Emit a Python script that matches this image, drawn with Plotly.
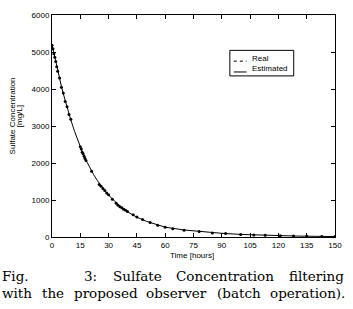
import plotly.graph_objects as go

# Estimated (observer) curve
est_time = [0, 1, 2, 3, 4, 5, 6, 7, 8, 9, 10, 12, 14, 16, 18, 20, 22, 24, 26, 28, 30,
            33, 36, 40, 45, 50, 55, 60, 70, 80, 90, 100, 110, 120, 130, 140, 150]
est_sulfate = [5200, 4960, 4720, 4500, 4280, 4070, 3870, 3680, 3500, 3330, 3160, 2850,
               2570, 2310, 2080, 1870, 1690, 1530, 1380, 1250, 1130, 970, 835, 680, 535,
               425, 335, 265, 190, 140, 100, 70, 50, 35, 25, 18, 12]

# Real (measured) samples
real_time = [0, 0.5, 1, 1.5, 2, 2.5, 3, 4, 5, 6, 7, 8, 9, 10, 15, 15.5, 16, 16.5, 17,
             17.5, 18, 21, 25, 26, 27, 28, 29, 30, 32, 34, 35, 36, 37, 38, 39, 40, 43,
             45, 48, 52, 56, 60, 64, 70, 78, 85, 92, 100, 107, 113, 121, 128, 135, 143, 150]
real_sulfate = [5180, 5090, 4950, 4860, 4740, 4600, 4480, 4300, 4050, 3890, 3660, 3520,
                3310, 3180, 2440, 2380, 2290, 2250, 2180, 2120, 2070, 1780, 1420, 1370,
                1310, 1260, 1190, 1140, 1020, 910, 860, 820, 790, 750, 720, 690, 600,
                540, 475, 395, 320, 265, 225, 185, 150, 110, 95, 70, 55, 45, 35, 25, 20,
                15, 12]

x_ticks = [0, 15, 30, 45, 60, 75, 90, 105, 120, 135, 150]
y_ticks = [0, 1000, 2000, 3000, 4000, 5000, 6000]

legend_labels = ["Real", "Estimated"]
caption_line1 = ["Fig.", "3:", "Sulfate", "Concentration", "filtering"]
caption_line2 = ["with", "the", "proposed", "observer", "(batch", "operation)."]

fig = go.Figure()
fig.add_trace(go.Scatter(x=est_time, y=est_sulfate, mode="lines", name="Estimated",
                         line=dict(color="black", width=1), showlegend=False))
fig.add_trace(go.Scatter(x=real_time, y=real_sulfate, mode="markers", name="Real",
                         marker=dict(color="black", size=3), showlegend=False))

axis_common = dict(showline=True, linecolor="black", linewidth=1, mirror="ticks",
                   ticks="inside", ticklen=4, tickcolor="black", showgrid=False,
                   zeroline=False, tickfont=dict(family="Liberation Sans", size=8, color="black"))

fig.update_xaxes(range=[0, 150], tickvals=x_ticks, **axis_common)
fig.update_yaxes(range=[0, 6000], tickvals=y_ticks, **axis_common)

L, R, T, B = 52, 340, 11, 237
W, H = float(R - L), float(B - T)
def px(x):
    return (x - L) / W
def py(y):
    return (B - y) / H

sans = dict(family="Liberation Sans", size=8, color="black")
annotations = [
    dict(text="Time [hours]", x=px(194), y=py(256), xref="paper", yref="paper",
         showarrow=False, xanchor="center", yanchor="middle", font=sans),
    dict(text="Sulfate Concentration", x=px(11.5), y=py(114), xref="paper", yref="paper",
         showarrow=False, textangle=-90, xanchor="center", yanchor="middle", font=sans),
    dict(text="[mg/L]", x=px(18.5), y=py(114), xref="paper", yref="paper",
         showarrow=False, textangle=-90, xanchor="center", yanchor="middle", font=sans),
]

# custom legend (MATLAB-style box)
shapes = [
    dict(type="rect", xref="paper", yref="paper", x0=px(233), x1=px(298), y0=py(47), y1=py(73),
         line=dict(color="black", width=1), fillcolor="white", layer="above"),
    dict(type="line", xref="paper", yref="paper", x0=px(237), x1=px(250), y0=py(58), y1=py(58),
         line=dict(color="black", width=1, dash="dot"), layer="above"),
    dict(type="line", xref="paper", yref="paper", x0=px(237), x1=px(250), y0=py(69), y1=py(69),
         line=dict(color="black", width=1), layer="above"),
]
for label, yy in zip(legend_labels, [55, 65]):
    annotations.append(dict(text=label, x=px(253), y=py(yy), xref="paper", yref="paper",
                            showarrow=False, xanchor="left", yanchor="middle", font=sans))

cap_font = dict(family="DejaVu Serif", size=13.5, color="black")
for word, cx in zip(caption_line1, [14.5, 91.5, 139, 228.5, 321.5]):
    annotations.append(dict(text=word, x=px(cx), y=py(277), xref="paper", yref="paper",
                            showarrow=False, xanchor="center", yanchor="middle", font=cap_font))
for word, cx in zip(caption_line2, [16, 52.9, 106.5, 179.2, 241.9, 312.2]):
    annotations.append(dict(text=word, x=px(cx), y=py(294), xref="paper", yref="paper",
                            showarrow=False, xanchor="center", yanchor="middle", font=cap_font))

fig.update_layout(
    width=353, height=309,
    margin=dict(l=L, r=353 - R, t=T, b=309 - B),
    plot_bgcolor="white", paper_bgcolor="white",
    annotations=annotations, shapes=shapes, showlegend=False,
)

fig.write_html("out.html", config={"displayModeBar": False},
               post_script="document.body.style.margin='0';")
